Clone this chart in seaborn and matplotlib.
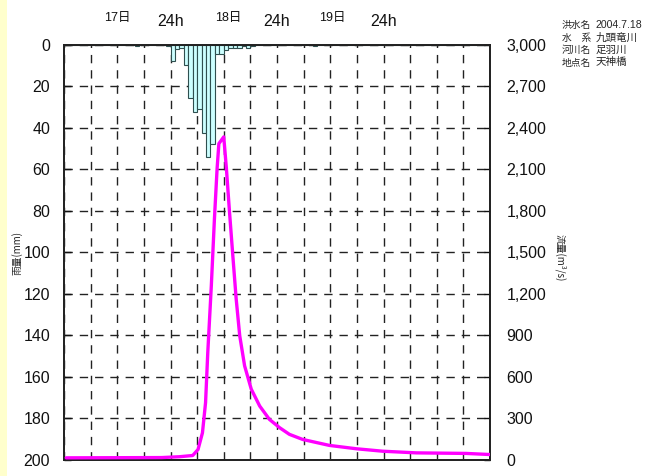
import numpy as np
import pandas as pd
import matplotlib
matplotlib.use("Agg")
import matplotlib.pyplot as plt
from matplotlib.patches import Rectangle
from matplotlib.ticker import FuncFormatter
from matplotlib.transforms import blended_transform_factory
import seaborn as sns

# ---- data ----
rain_hours = [16, 23, 24, 25, 26, 27, 28, 29, 30, 31, 32, 33, 34, 35, 36, 37, 38, 39, 40, 41, 42, 56]
rain_mm = [0.5, 0.7, 7.7, 2.0, 1.3, 9.5, 25.6, 32.1, 31.0, 42.5, 53.8, 47.7, 4.3, 4.3, 2.6, 1.6, 1.3, 1.6, 0.7, 1.3, 0.7, 0.5]

flow_hours = [0.5, 22, 26, 29, 30.2, 31.2, 31.9, 32.4, 33.2, 33.9, 34.5, 34.9, 36.0, 36.6, 37.3, 38.1,
              38.8, 39.6, 40.7, 42.2, 44.1, 46.3, 48.6, 50.8, 53.8, 59.8, 65.8, 71.8, 79.4, 90.6, 96]
flow_m3s = [12, 14, 20, 29, 72, 193, 411, 774, 1258, 1742, 2105, 2286, 2335, 2105, 1790, 1452,
            1162, 896, 678, 509, 387, 290, 230, 182, 145, 102, 78, 60, 48, 44, 36]

top_labels = ["17日", "24h", "18日", "24h", "19日", "24h"]
top_label_hours = [12, 24, 37, 48, 60.5, 72]

rain_ticks = list(range(0, 201, 20))
flow_ticks = list(range(0, 3001, 300))

info_left = ["洪水名", "水　系", "河川名", "地点名"]
info_right = ["2004.7.18", "九頭竜川", "足羽川", "天神橋"]

# ---- style ----
sns.set_style("white")
plt.rcParams['font.family'] = ['Liberation Sans', 'Noto Sans CJK JP', 'DejaVu Sans']
CJK = ['Noto Sans CJK JP', 'DejaVu Sans']

W, H = 647, 476
fig = plt.figure(figsize=(W / 100, H / 100), dpi=100)
fig.patches.append(Rectangle((0, 0), 7 / W, 1, transform=fig.transFigure,
                             facecolor='#ffffcc', edgecolor='none', zorder=0))

L, R, T, B = 64, 490, 45, 459.5
ax = fig.add_axes([L / W, 1 - B / H, (R - L) / W, (B - T) / H])

rain_df = pd.DataFrame({"hour": np.array(rain_hours, dtype=float) + 0.5,
                        "rain": np.array(rain_mm, dtype=float)})
sns.histplot(data=rain_df, x="hour", weights="rain", binwidth=1, binrange=(0, 96), ax=ax,
             color='#ccffff', edgecolor='#2f4f4f', linewidth=0.8, alpha=1.0, zorder=2)

ax.set_xlim(0, 96)
ax.set_ylim(200, 0)
ax.set_xticks(np.arange(0, 97, 6))
ax.set_xticklabels([])
ax.set_yticks(rain_ticks)
ax.set_yticklabels([str(v) for v in rain_ticks], fontsize=11.5)
ax.set_xlabel("")
ax.set_ylabel("")
ax.tick_params(axis='y', direction='in', length=5, width=1, pad=10, colors='#111111', left=True)
ax.tick_params(axis='x', direction='in', length=0, top=False, bottom=False)
ax.set_axisbelow(True)
ax.grid(True, which='major', color='#222222', linestyle=(0, (6, 5)), linewidth=1.0)

ax2 = ax.twinx()
flow_df = pd.DataFrame({"hour": flow_hours, "flow": flow_m3s})
sns.lineplot(data=flow_df, x="hour", y="flow", ax=ax2, color='#ff00ff', linewidth=2.4,
             sort=False, estimator=None, zorder=5)
ax2.set_ylim(0, 3000)
ax2.set_xlim(0, 96)
ax2.set_yticks(flow_ticks)
ax2.yaxis.set_major_formatter(FuncFormatter(lambda v, p: f"{int(v):,}"))
ax2.tick_params(axis='y', direction='in', length=4, width=1, pad=12, labelsize=11.5,
                colors='#111111', right=True)
ax2.set_xlabel("")
ax2.set_ylabel("")
ax2.grid(False)

for a in (ax, ax2):
    for s in a.spines.values():
        s.set_linewidth(1.3)
        s.set_color('#222222')

# top day labels
tr = blended_transform_factory(ax.transData, fig.transFigure)
for lab, hx in zip(top_labels, top_label_hours):
    if lab.endswith("日"):
        ax.text(hx, 1 - 18 / H, lab, transform=tr, ha='center', va='center', fontsize=9, color='#111111')
    else:
        ax.text(hx, 1 - 22 / H, lab, transform=tr, ha='center', va='center', fontsize=11.5, color='#111111')

# axis titles
fig.text(17 / W, 1 - 253 / H, "雨量(mm)", rotation=90, ha='center', va='center',
         fontsize=7, family=CJK)
fig.text(560 / W, 1 - 258 / H, "流量(m³/s)", rotation=270, ha='center', va='center',
         fontsize=7, family=CJK)

# info block
ys = [25, 37.5, 50, 62.5]
for y, a, b in zip(ys, info_left, info_right):
    fig.text(562 / W, 1 - y / H, a, ha='left', va='center', fontsize=7.0, family=CJK)
    if b[0].isdigit():
        fig.text(596 / W, 1 - y / H, b, ha='left', va='center', fontsize=7.6, family=['Liberation Sans'])
    else:
        fig.text(596 / W, 1 - y / H, b, ha='left', va='center', fontsize=7.6, family=CJK)

fig.savefig("out.png", dpi=100)
